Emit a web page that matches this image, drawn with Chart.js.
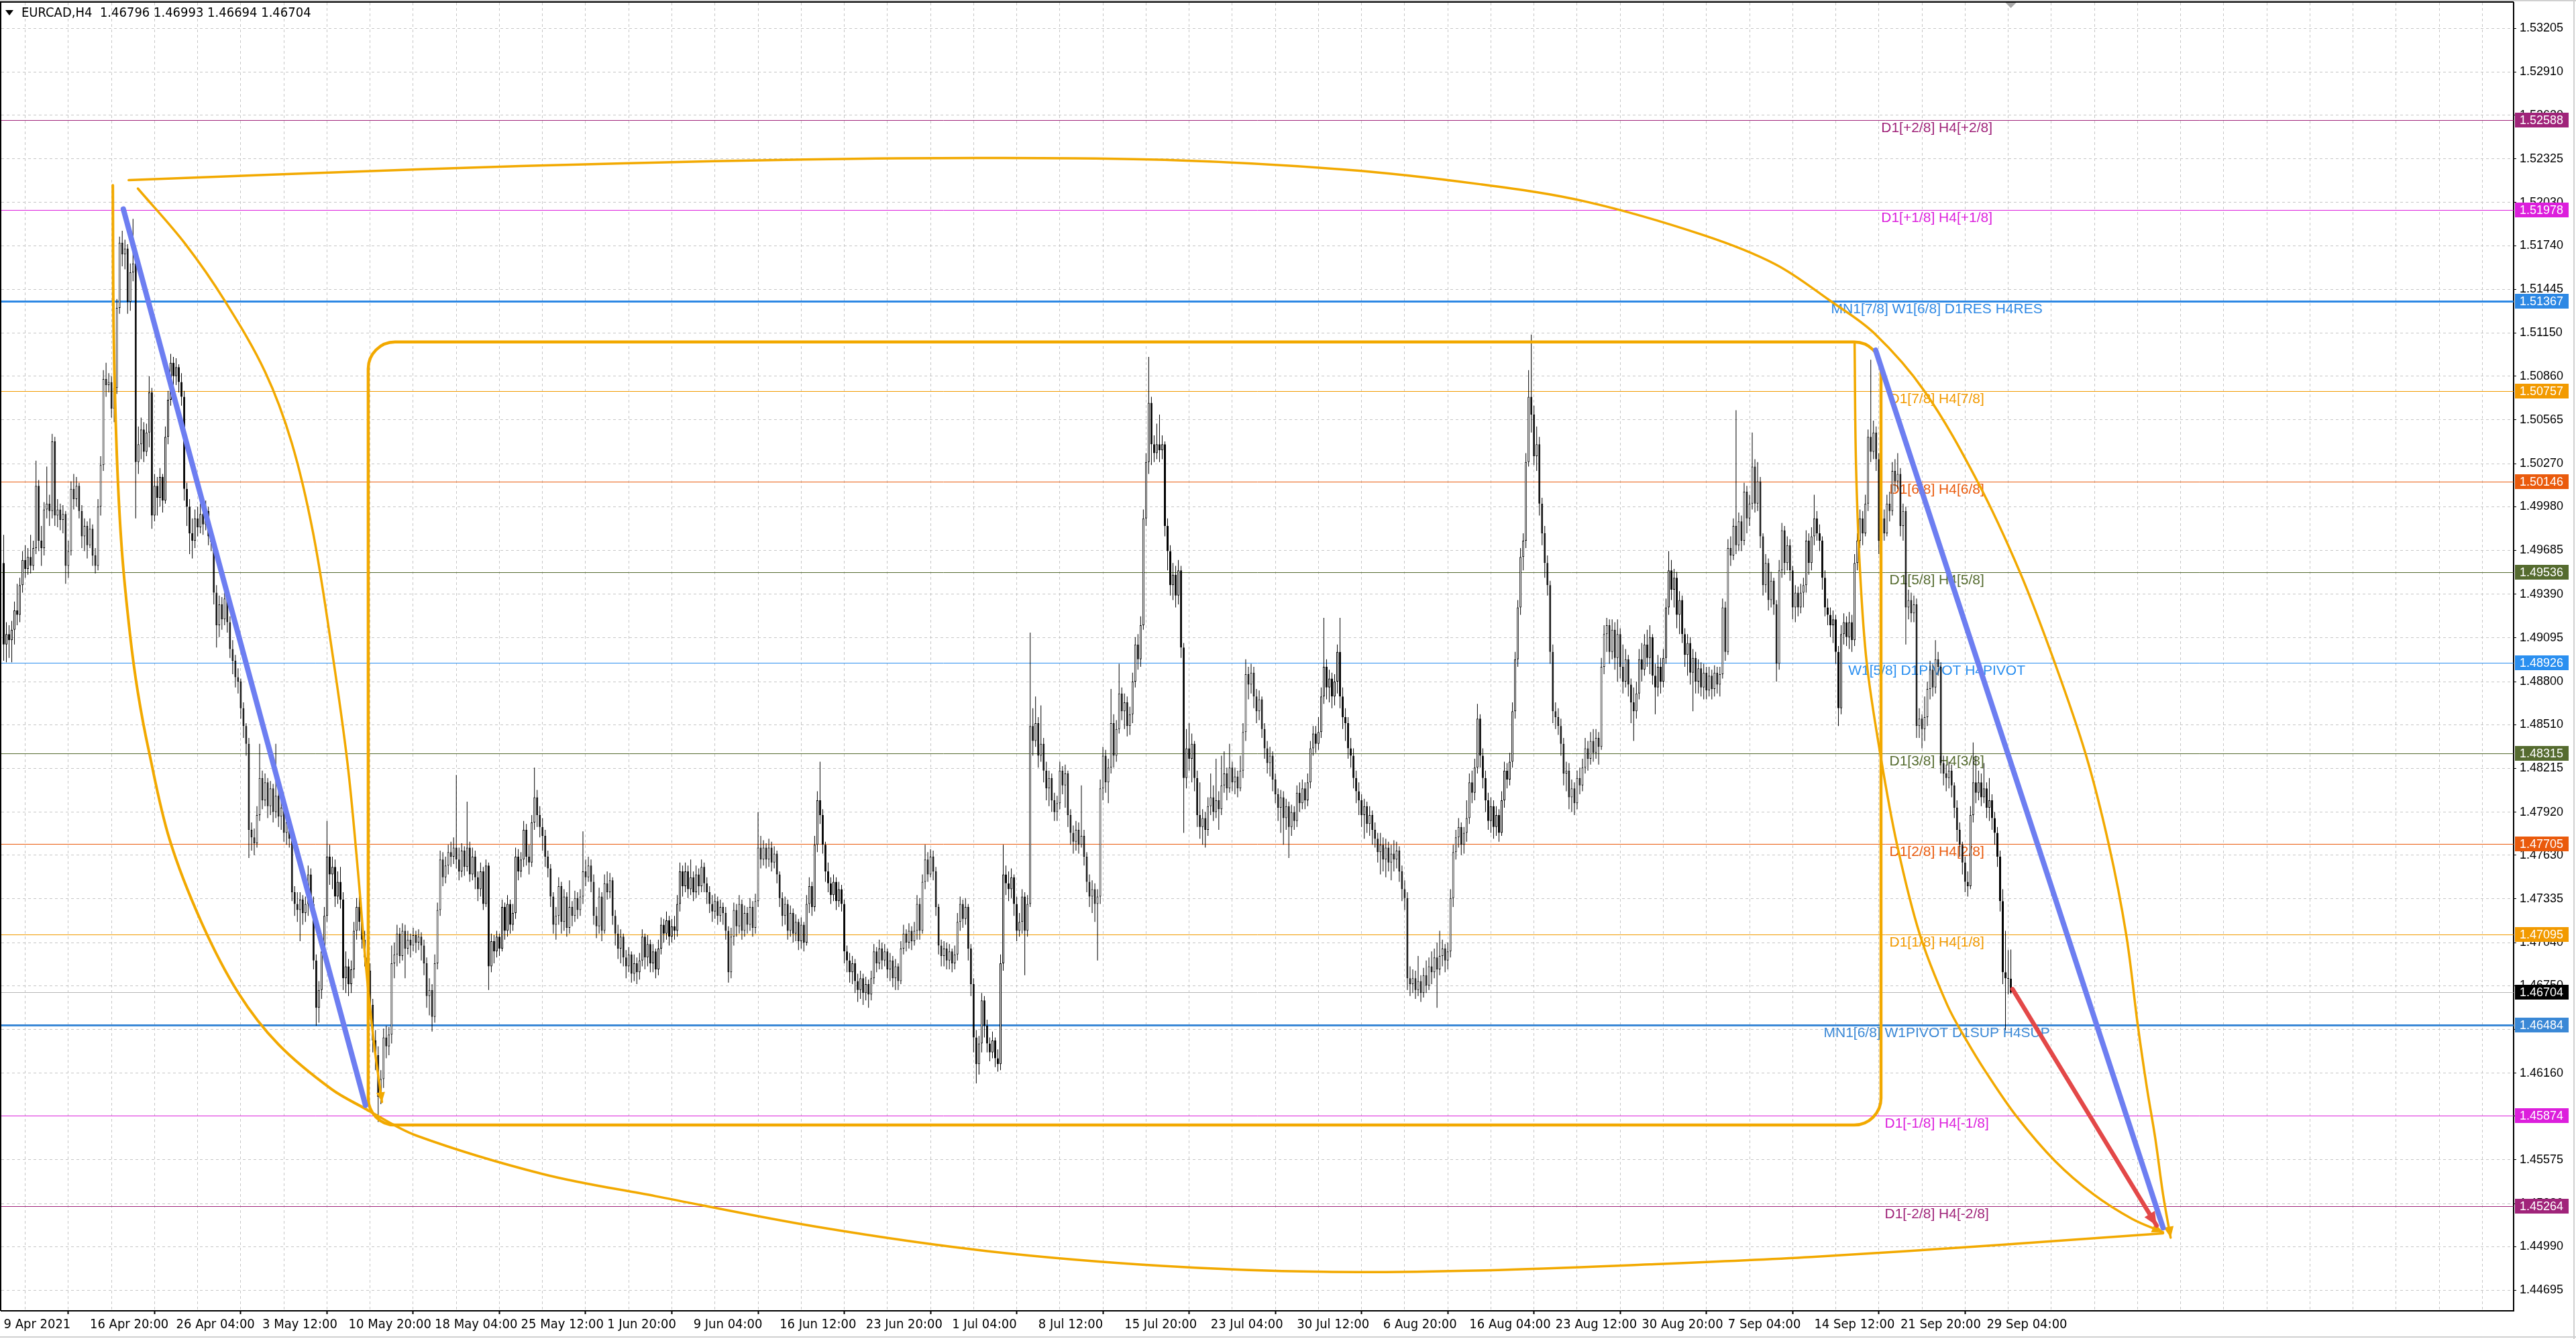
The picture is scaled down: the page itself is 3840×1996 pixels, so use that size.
<!DOCTYPE html>
<html>
<head>
<meta charset="utf-8">
<title>EURCAD,H4</title>
<script src="https://cdn.jsdelivr.net/npm/chart.js@4.4.1/dist/chart.umd.min.js"></script>
<style>
  html, body { margin: 0; padding: 0; background: #fff; overflow: hidden; }
  #wrap { width: 3840px; height: 1996px; position: relative; }
</style>
</head>
<body>
<div id="wrap"><canvas id="chart"></canvas></div>
<script>
// EURCAD H4, one value per candle (bar 0 = 9 Apr 16:00)
const symbol = 'EURCAD,H4';
const firstOpen = 1.4960;
const closes = [
  1.4905,1.4912,1.4908,1.4915,1.4928,1.4925,1.4945,1.4962,1.4956,1.4964,
  1.4958,1.4970,1.5012,1.4975,1.4970,1.4996,1.5000,1.4995,1.5042,1.4992,
  1.4996,1.4989,1.4993,1.4958,1.4968,1.5010,1.5003,1.5012,1.4995,1.4978,
  1.4985,1.4972,1.4983,1.4965,1.4958,1.4998,1.5026,1.5084,1.5080,1.5082,
  1.5064,1.5078,1.5132,1.5176,1.5168,1.5172,1.5136,1.5156,1.5162,1.5028,
  1.5040,1.5050,1.5035,1.5048,1.5075,1.4992,1.5012,1.5004,1.5018,1.5002,
  1.5045,1.5070,1.5095,1.5086,1.5092,1.5082,1.5072,1.5010,1.4998,1.4980,
  1.4975,1.4990,1.4984,1.4993,1.4986,1.4995,1.4978,1.4974,1.4940,1.4918,
  1.4932,1.4922,1.4936,1.4920,1.4902,1.4894,1.4883,1.4880,1.4862,1.4850,
  1.4838,1.4780,1.4775,1.4771,1.4790,1.4815,1.4800,1.4812,1.4796,1.4808,
  1.4792,1.4803,1.4789,1.4795,1.4778,1.4785,1.4774,1.4738,1.4730,1.4726,
  1.4733,1.4724,1.4730,1.4750,1.4730,1.4692,1.4660,1.4672,1.4698,1.4722,
  1.4762,1.4750,1.4755,1.4735,1.4745,1.4733,1.4680,1.4688,1.4676,1.4686,
  1.4712,1.4728,1.4718,1.4706,1.4694,1.4685,1.4662,1.4638,1.4628,1.4600,
  1.4612,1.4640,1.4634,1.4642,1.4690,1.4696,1.4710,1.4695,1.4712,1.4700,
  1.4706,1.4702,1.4709,1.4704,1.4708,1.4702,1.4690,1.4668,1.4672,1.4654,
  1.4690,1.4726,1.4760,1.4748,1.4756,1.4765,1.4762,1.4768,1.4760,1.4752,
  1.4766,1.4755,1.4768,1.4750,1.4762,1.4748,1.4740,1.4752,1.4730,1.4756,
  1.4688,1.4705,1.4698,1.4708,1.4700,1.4728,1.4712,1.4730,1.4716,1.4724,
  1.4762,1.4752,1.4760,1.4780,1.4762,1.4758,1.4785,1.4802,1.4790,1.4782,
  1.4776,1.4762,1.4754,1.4735,1.4716,1.4722,1.4742,1.4718,1.4735,1.4714,
  1.4728,1.4722,1.4734,1.4726,1.4735,1.4752,1.4748,1.4756,1.4745,1.4722,
  1.4715,1.4735,1.4712,1.4744,1.4738,1.4746,1.4722,1.4710,1.4700,1.4708,
  1.4694,1.4688,1.4696,1.4683,1.4690,1.4684,1.4692,1.4708,1.4694,1.4703,
  1.4690,1.4698,1.4686,1.4700,1.4716,1.4710,1.4719,1.4708,1.4715,1.4712,
  1.4730,1.4752,1.4742,1.4752,1.4740,1.4748,1.4738,1.4750,1.4742,1.4755,
  1.4744,1.4738,1.4730,1.4725,1.4732,1.4722,1.4728,1.4724,1.4712,1.4684,
  1.4708,1.4726,1.4715,1.4730,1.4712,1.4724,1.4716,1.4728,1.4714,1.4732,
  1.4768,1.4760,1.4768,1.4760,1.4768,1.4758,1.4764,1.4750,1.4734,1.4722,
  1.4730,1.4712,1.4724,1.4710,1.4718,1.4705,1.4716,1.4704,1.4730,1.4742,
  1.4728,1.4770,1.4800,1.4790,1.4770,1.4752,1.4744,1.4736,1.4745,1.4732,
  1.4740,1.4730,1.4698,1.4692,1.4684,1.4690,1.4678,1.4672,1.4680,1.4670,
  1.4676,1.4669,1.4680,1.4698,1.4690,1.4700,1.4692,1.4698,1.4686,1.4692,
  1.4680,1.4688,1.4678,1.4700,1.4710,1.4704,1.4712,1.4705,1.4712,1.4730,
  1.4712,1.4745,1.4760,1.4750,1.4762,1.4752,1.4728,1.4702,1.4695,1.4700,
  1.4692,1.4698,1.4690,1.4696,1.4718,1.4730,1.4720,1.4728,1.4700,1.4676,
  1.4640,1.4622,1.4636,1.4665,1.4648,1.4636,1.4630,1.4638,1.4626,1.4622,
  1.4690,1.4750,1.4744,1.4740,1.4748,1.4730,1.4712,1.4718,1.4735,1.4712,
  1.4730,1.4850,1.4840,1.4852,1.4830,1.4838,1.4820,1.4808,1.4815,1.4800,
  1.4792,1.4798,1.4820,1.4810,1.4818,1.4790,1.4778,1.4772,1.4780,1.4770,
  1.4776,1.4762,1.4745,1.4735,1.4740,1.4730,1.4735,1.4808,1.4830,1.4812,
  1.4822,1.4852,1.4830,1.4848,1.4872,1.4860,1.4866,1.4850,1.4858,1.4880,
  1.4905,1.4895,1.4918,1.4990,1.5028,1.5068,1.5040,1.5034,1.5040,1.5036,
  1.5040,1.4985,1.4968,1.4945,1.4952,1.4938,1.4955,1.4903,1.4815,1.4835,
  1.4828,1.4838,1.4815,1.4790,1.4782,1.4788,1.4780,1.4796,1.4802,1.4792,
  1.4800,1.4794,1.4810,1.4818,1.4808,1.4822,1.4812,1.4816,1.4808,1.4820,
  1.4846,1.4885,1.4878,1.4886,1.4870,1.4860,1.4868,1.4848,1.4835,1.4825,
  1.4830,1.4814,1.4804,1.4795,1.4802,1.4788,1.4796,1.4782,1.4792,1.4786,
  1.4805,1.4798,1.4808,1.4800,1.4812,1.4835,1.4845,1.4838,1.4846,1.4870,
  1.4890,1.4876,1.4882,1.4870,1.4880,1.4900,1.4870,1.4856,1.4852,1.4835,
  1.4830,1.4815,1.4806,1.4800,1.4790,1.4796,1.4784,1.4790,1.4780,1.4774,
  1.4765,1.4770,1.4760,1.4768,1.4758,1.4764,1.4760,1.4766,1.4752,1.4740,
  1.4734,1.4680,1.4676,1.4680,1.4672,1.4678,1.4670,1.4682,1.4675,1.4688,
  1.4684,1.4694,1.4686,1.4695,1.4700,1.4692,1.4698,1.4734,1.4765,1.4775,
  1.4782,1.4770,1.4778,1.4788,1.4812,1.4805,1.4822,1.4855,1.4830,1.4815,
  1.4800,1.4786,1.4796,1.4782,1.4790,1.4778,1.4800,1.4820,1.4814,1.4826,
  1.4860,1.4895,1.4930,1.4964,1.4975,1.5028,1.5072,1.5060,1.5032,1.5040,
  1.5000,1.4980,1.4960,1.4945,1.4900,1.4860,1.4856,1.4850,1.4838,1.4818,
  1.4820,1.4802,1.4808,1.4798,1.4815,1.4810,1.4822,1.4835,1.4828,1.4840,
  1.4832,1.4842,1.4836,1.4890,1.4912,1.4918,1.4900,1.4915,1.4896,1.4912,
  1.4890,1.4880,1.4895,1.4878,1.4866,1.4860,1.4872,1.4895,1.4888,1.4905,
  1.4896,1.4910,1.4884,1.4876,1.4890,1.4880,1.4896,1.4930,1.4955,1.4942,
  1.4950,1.4925,1.4935,1.4912,1.4898,1.4906,1.4886,1.4896,1.4880,1.4889,
  1.4876,1.4886,1.4874,1.4884,1.4875,1.4886,1.4878,1.4885,1.4930,1.4900,
  1.4970,1.4965,1.4985,1.4972,1.4988,1.4975,1.5008,1.4990,1.5000,1.5025,
  1.5000,1.5015,1.4978,1.4945,1.4960,1.4935,1.4948,1.4932,1.4892,1.4955,
  1.4982,1.4960,1.4972,1.4955,1.4930,1.4940,1.4930,1.4940,1.4945,1.4975,
  1.4960,1.4978,1.4990,1.4980,1.4975,1.4950,1.4930,1.4925,1.4918,1.4922,
  1.4900,1.4862,1.4912,1.4920,1.4910,1.4920,1.4908,1.4960,1.4975,1.4990,
  1.4980,1.5000,1.5045,1.5035,1.5048,1.5030,1.4975,1.4990,1.4980,1.5000,
  1.4995,1.5022,1.5015,1.5020,1.4985,1.4995,1.4930,1.4935,1.4926,1.4932,
  1.4850,1.4855,1.4848,1.4856,1.4875,1.4888,1.4876,1.4895,1.4890,1.4825,
  1.4818,1.4815,1.4820,1.4810,1.4795,1.4780,1.4770,1.4758,1.4745,1.4742,
  1.4790,1.4812,1.4805,1.4812,1.4802,1.4808,1.4795,1.4800,1.4788,1.4778,
  1.4762,1.4732,1.4684,1.4680,1.46796,1.46704
];
const highs = [
  1.4979,1.4920,1.4918,1.4921,1.4934,1.4946,1.4950,1.4968,1.4972,1.4970,
  1.4979,1.4975,1.5029,1.5016,1.4985,1.5001,1.5025,1.5006,1.5047,1.5045,
  1.5003,1.5000,1.4999,1.4995,1.4975,1.5015,1.5020,1.5018,1.5014,1.4999,
  1.4990,1.4988,1.4990,1.4986,1.4970,1.5003,1.5032,1.5090,1.5095,1.5088,
  1.5086,1.5083,1.5138,1.5180,1.5184,1.5178,1.5175,1.5162,1.5192,1.5168,
  1.5052,1.5058,1.5055,1.5054,1.5086,1.5078,1.5020,1.5018,1.5024,1.5020,
  1.5052,1.5076,1.5101,1.5099,1.5098,1.5094,1.5088,1.5076,1.5014,1.5003,
  1.4990,1.4996,1.4998,1.5000,1.4997,1.5002,1.4998,1.4984,1.4978,1.4945,
  1.4938,1.4937,1.4940,1.4938,1.4924,1.4908,1.4898,1.4889,1.4882,1.4866,
  1.4852,1.4842,1.4785,1.4781,1.4796,1.4838,1.4820,1.4818,1.4815,1.4813,
  1.4811,1.4838,1.4808,1.4800,1.4798,1.4790,1.4788,1.4778,1.4742,1.4738,
  1.4738,1.4736,1.4735,1.4756,1.4754,1.4735,1.4696,1.4678,1.4704,1.4728,
  1.4786,1.4770,1.4762,1.4760,1.4752,1.4755,1.4738,1.4698,1.4693,1.4692,
  1.4718,1.4734,1.4736,1.4722,1.4712,1.4699,1.4690,1.4666,1.4645,1.4634,
  1.4618,1.4646,1.4648,1.4647,1.4702,1.4704,1.4716,1.4714,1.4717,1.4716,
  1.4712,1.4710,1.4714,1.4712,1.4713,1.4711,1.4706,1.4694,1.4680,1.4676,
  1.4696,1.4731,1.4766,1.4765,1.4762,1.4770,1.4772,1.4775,1.4817,1.4768,
  1.4771,1.4769,1.4799,1.4772,1.4768,1.4766,1.4752,1.4758,1.4755,1.4760,
  1.4758,1.4710,1.4709,1.4712,1.4710,1.4733,1.4731,1.4736,1.4733,1.4730,
  1.4768,1.4767,1.4765,1.4786,1.4784,1.4770,1.4790,1.4822,1.4807,1.4796,
  1.4788,1.4780,1.4766,1.4757,1.4738,1.4728,1.4748,1.4745,1.4740,1.4738,
  1.4746,1.4732,1.4739,1.4738,1.4740,1.4779,1.4760,1.4762,1.4760,1.4750,
  1.4728,1.4741,1.4738,1.4750,1.4752,1.4751,1.4748,1.4726,1.4716,1.4713,
  1.4710,1.4699,1.4701,1.4698,1.4696,1.4694,1.4697,1.4713,1.4710,1.4709,
  1.4706,1.4703,1.4700,1.4706,1.4721,1.4720,1.4725,1.4722,1.4720,1.4722,
  1.4736,1.4758,1.4756,1.4758,1.4756,1.4760,1.4752,1.4756,1.4754,1.4760,
  1.4758,1.4748,1.4742,1.4736,1.4737,1.4735,1.4733,1.4731,1.4728,1.4715,
  1.4714,1.4731,1.4730,1.4736,1.4733,1.4729,1.4728,1.4734,1.4732,1.4737,
  1.4792,1.4776,1.4773,1.4771,1.4774,1.4772,1.4769,1.4766,1.4752,1.4738,
  1.4735,1.4733,1.4729,1.4727,1.4723,1.4720,1.4721,1.4718,1.4736,1.4748,
  1.4745,1.4776,1.4806,1.4826,1.4794,1.4772,1.4758,1.4748,1.4750,1.4748,
  1.4745,1.4743,1.4733,1.4702,1.4697,1.4695,1.4693,1.4683,1.4685,1.4683,
  1.4681,1.4679,1.4685,1.4703,1.4701,1.4706,1.4704,1.4703,1.4700,1.4697,
  1.4695,1.4693,1.4690,1.4705,1.4716,1.4713,1.4717,1.4715,1.4718,1.4736,
  1.4734,1.4750,1.4770,1.4765,1.4767,1.4766,1.4755,1.4730,1.4706,1.4705,
  1.4704,1.4703,1.4700,1.4702,1.4724,1.4735,1.4733,1.4734,1.4730,1.4703,
  1.4680,1.4645,1.4641,1.4670,1.4668,1.4652,1.4640,1.4644,1.4640,1.4632,
  1.4696,1.4770,1.4756,1.4752,1.4754,1.4750,1.4735,1.4724,1.4740,1.4738,
  1.4736,1.4913,1.4862,1.4870,1.4856,1.4864,1.4842,1.4826,1.4820,1.4818,
  1.4805,1.4803,1.4826,1.4823,1.4824,1.4820,1.4794,1.4783,1.4786,1.4785,
  1.4810,1.4780,1.4765,1.4750,1.4746,1.4744,1.4740,1.4814,1.4836,1.4834,
  1.4828,1.4875,1.4858,1.4854,1.4892,1.4876,1.4872,1.4870,1.4863,1.4886,
  1.4910,1.4912,1.4924,1.4996,1.5034,1.5099,1.5072,1.5046,1.5054,1.5060,
  1.5046,1.5042,1.4990,1.4972,1.4960,1.4958,1.4962,1.4958,1.4906,1.4848,
  1.4852,1.4845,1.4840,1.4820,1.4812,1.4794,1.4792,1.4802,1.4818,1.4810,
  1.4828,1.4806,1.4830,1.4833,1.4822,1.4838,1.4826,1.4822,1.4820,1.4830,
  1.4852,1.4895,1.4890,1.4892,1.4890,1.4875,1.4874,1.4870,1.4852,1.4840,
  1.4836,1.4833,1.4818,1.4808,1.4807,1.4806,1.4801,1.4799,1.4797,1.4796,
  1.4810,1.4812,1.4814,1.4812,1.4818,1.4840,1.4850,1.4850,1.4856,1.4876,
  1.4923,1.4895,1.4888,1.4886,1.4885,1.4905,1.4923,1.4876,1.4862,1.4856,
  1.4842,1.4835,1.4820,1.4812,1.4804,1.4801,1.4799,1.4796,1.4793,1.4785,
  1.4778,1.4778,1.4775,1.4774,1.4772,1.4770,1.4773,1.4772,1.4769,1.4756,
  1.4746,1.4738,1.4688,1.4686,1.4685,1.4695,1.4682,1.4687,1.4692,1.4694,
  1.4698,1.4700,1.4704,1.4712,1.4706,1.4703,1.4704,1.4740,1.4770,1.4780,
  1.4788,1.4785,1.4782,1.4800,1.4818,1.4820,1.4828,1.4865,1.4858,1.4835,
  1.4820,1.4805,1.4802,1.4800,1.4796,1.4794,1.4806,1.4826,1.4825,1.4832,
  1.4866,1.4900,1.4935,1.4970,1.4980,1.5034,1.5090,1.5114,1.5066,1.5052,
  1.5045,1.5004,1.4985,1.4965,1.4948,1.4905,1.4866,1.4862,1.4855,1.4842,
  1.4826,1.4825,1.4814,1.4812,1.4820,1.4822,1.4828,1.4842,1.4840,1.4846,
  1.4848,1.4848,1.4846,1.4896,1.4918,1.4923,1.4922,1.4922,1.4920,1.4922,
  1.4916,1.4905,1.4902,1.4898,1.4882,1.4876,1.4880,1.4902,1.4906,1.4912,
  1.4915,1.4918,1.4912,1.4892,1.4898,1.4896,1.4902,1.4936,1.4968,1.4962,
  1.4956,1.4954,1.4941,1.4938,1.4916,1.4912,1.4910,1.4902,1.4900,1.4895,
  1.4893,1.4892,1.4890,1.4890,1.4888,1.4891,1.4890,1.4890,1.4936,1.4934,
  1.4976,1.4978,1.4990,1.5063,1.4994,1.4992,1.5014,1.5012,1.5006,1.5048,
  1.5030,1.5028,1.5018,1.4980,1.4966,1.4963,1.4954,1.4950,1.4935,1.4962,
  1.4987,1.4985,1.4978,1.4976,1.4958,1.4945,1.4944,1.4946,1.4950,1.4982,
  1.4980,1.4984,1.5006,1.4995,1.4986,1.4978,1.4955,1.4936,1.4930,1.4928,
  1.4925,1.4904,1.4918,1.4926,1.4924,1.4927,1.4925,1.4966,1.4980,1.4996,
  1.4995,1.5006,1.5050,1.5097,1.5056,1.5052,1.5034,1.4998,1.4996,1.5006,
  1.5008,1.5028,1.5030,1.5034,1.5024,1.5000,1.4998,1.4942,1.4940,1.4938,
  1.4936,1.4862,1.4858,1.4870,1.4880,1.4894,1.4892,1.4908,1.4900,1.4893,
  1.4830,1.4824,1.4826,1.4824,1.4812,1.4800,1.4785,1.4772,1.4762,1.4752,
  1.4796,1.4839,1.4830,1.4820,1.4818,1.4825,1.4812,1.4815,1.4804,1.4792,
  1.4782,1.4766,1.4740,1.4712,1.4699,1.46993
];
const lows = [
  1.4894,1.4893,1.4896,1.4893,1.4905,1.4918,1.4920,1.4940,1.4950,1.4952,
  1.4953,1.4955,1.4966,1.4968,1.4958,1.4965,1.4990,1.4985,1.4990,1.4985,
  1.4984,1.4982,1.4980,1.4946,1.4950,1.4965,1.4996,1.4998,1.4990,1.4970,
  1.4968,1.4963,1.4970,1.4958,1.4953,1.4955,1.4992,1.5022,1.5072,1.5075,
  1.5058,1.5055,1.5074,1.5128,1.5160,1.5158,1.5128,1.5130,1.5150,1.4990,
  1.5020,1.5030,1.5028,1.5032,1.5038,1.4983,1.4988,1.4992,1.4998,1.4994,
  1.5000,1.5040,1.5066,1.5078,1.5080,1.5075,1.5066,1.5002,1.4985,1.4966,
  1.4963,1.4970,1.4978,1.4980,1.4979,1.4982,1.4972,1.4968,1.4932,1.4903,
  1.4910,1.4915,1.4918,1.4913,1.4896,1.4885,1.4876,1.4872,1.4855,1.4842,
  1.4830,1.4761,1.4766,1.4763,1.4768,1.4786,1.4794,1.4796,1.4788,1.4790,
  1.4785,1.4788,1.4782,1.4780,1.4772,1.4770,1.4768,1.4732,1.4722,1.4718,
  1.4705,1.4716,1.4718,1.4722,1.4725,1.4686,1.4648,1.4650,1.4666,1.4692,
  1.4718,1.4743,1.4740,1.4728,1.4730,1.4727,1.4672,1.4670,1.4668,1.4670,
  1.4680,1.4706,1.4712,1.4700,1.4688,1.4676,1.4655,1.4630,1.4618,1.4583,
  1.4595,1.4606,1.4626,1.4628,1.4636,1.4680,1.4688,1.4690,1.4692,1.4680,
  1.4696,1.4694,1.4698,1.4697,1.4699,1.4692,1.4682,1.4660,1.4655,1.4644,
  1.4650,1.4686,1.4722,1.4742,1.4744,1.4750,1.4755,1.4757,1.4754,1.4746,
  1.4748,1.4749,1.4752,1.4745,1.4746,1.4740,1.4732,1.4735,1.4726,1.4728,
  1.4672,1.4684,1.4690,1.4694,1.4695,1.4698,1.4706,1.4708,1.4710,1.4712,
  1.4720,1.4746,1.4748,1.4755,1.4756,1.4750,1.4755,1.4780,1.4782,1.4775,
  1.4766,1.4755,1.4748,1.4728,1.4710,1.4706,1.4716,1.4710,1.4712,1.4708,
  1.4710,1.4715,1.4718,1.4720,1.4722,1.4730,1.4742,1.4745,1.4738,1.4716,
  1.4707,1.4710,1.4705,1.4710,1.4733,1.4734,1.4716,1.4702,1.4693,1.4690,
  1.4688,1.4680,1.4684,1.4677,1.4678,1.4676,1.4679,1.4688,1.4686,1.4688,
  1.4684,1.4684,1.4680,1.4682,1.4696,1.4704,1.4706,1.4702,1.4704,1.4706,
  1.4708,1.4725,1.4735,1.4738,1.4734,1.4736,1.4732,1.4734,1.4736,1.4738,
  1.4738,1.4730,1.4724,1.4718,1.4720,1.4716,1.4718,1.4716,1.4706,1.4677,
  1.4680,1.4702,1.4708,1.4710,1.4706,1.4708,1.4710,1.4712,1.4708,1.4710,
  1.4728,1.4754,1.4756,1.4754,1.4755,1.4752,1.4754,1.4744,1.4728,1.4715,
  1.4716,1.4706,1.4708,1.4704,1.4705,1.4699,1.4700,1.4698,1.4702,1.4724,
  1.4722,1.4725,1.4765,1.4784,1.4764,1.4745,1.4738,1.4730,1.4732,1.4726,
  1.4728,1.4725,1.4690,1.4684,1.4677,1.4676,1.4670,1.4664,1.4666,1.4662,
  1.4665,1.4660,1.4665,1.4676,1.4684,1.4686,1.4686,1.4688,1.4680,1.4678,
  1.4674,1.4672,1.4672,1.4676,1.4696,1.4698,1.4700,1.4699,1.4702,1.4706,
  1.4706,1.4710,1.4740,1.4745,1.4748,1.4746,1.4722,1.4696,1.4688,1.4688,
  1.4686,1.4686,1.4684,1.4686,1.4692,1.4712,1.4714,1.4716,1.4692,1.4668,
  1.4630,1.4609,1.4615,1.4630,1.4640,1.4630,1.4624,1.4626,1.4620,1.4617,
  1.4618,1.4685,1.4736,1.4732,1.4734,1.4722,1.4705,1.4708,1.4710,1.4682,
  1.4708,1.4728,1.4830,1.4836,1.4822,1.4826,1.4812,1.4800,1.4796,1.4792,
  1.4786,1.4786,1.4794,1.4804,1.4795,1.4782,1.4770,1.4764,1.4766,1.4764,
  1.4768,1.4756,1.4738,1.4728,1.4724,1.4718,1.4692,1.4730,1.4800,1.4805,
  1.4798,1.4818,1.4822,1.4826,1.4845,1.4854,1.4848,1.4843,1.4844,1.4852,
  1.4876,1.4888,1.4890,1.4915,1.4985,1.5020,1.5026,1.5028,1.5030,1.5028,
  1.5030,1.4978,1.4955,1.4938,1.4935,1.4930,1.4932,1.4896,1.4778,1.4808,
  1.4820,1.4812,1.4806,1.4782,1.4774,1.4770,1.4768,1.4776,1.4790,1.4786,
  1.4788,1.4780,1.4790,1.4805,1.4800,1.4805,1.4806,1.4804,1.4802,1.4806,
  1.4815,1.4840,1.4868,1.4872,1.4862,1.4852,1.4854,1.4842,1.4828,1.4818,
  1.4816,1.4806,1.4798,1.4786,1.4778,1.4770,1.4780,1.4761,1.4776,1.4780,
  1.4782,1.4792,1.4794,1.4794,1.4796,1.4808,1.4830,1.4832,1.4834,1.4842,
  1.4865,1.4868,1.4866,1.4862,1.4864,1.4872,1.4862,1.4848,1.4840,1.4828,
  1.4822,1.4808,1.4798,1.4790,1.4782,1.4774,1.4778,1.4776,1.4770,1.4768,
  1.4758,1.4750,1.4752,1.4748,1.4752,1.4746,1.4752,1.4754,1.4745,1.4732,
  1.4726,1.4672,1.4668,1.4670,1.4666,1.4668,1.4664,1.4667,1.4670,1.4672,
  1.4676,1.4680,1.4660,1.4682,1.4688,1.4684,1.4686,1.4694,1.4728,1.4760,
  1.4768,1.4763,1.4764,1.4772,1.4784,1.4798,1.4800,1.4818,1.4822,1.4808,
  1.4792,1.4780,1.4778,1.4774,1.4776,1.4772,1.4776,1.4795,1.4808,1.4810,
  1.4822,1.4855,1.4890,1.4925,1.4955,1.4970,1.5025,1.5048,1.5026,1.5022,
  1.4992,1.4972,1.4950,1.4938,1.4892,1.4852,1.4848,1.4844,1.4830,1.4810,
  1.4806,1.4794,1.4792,1.4790,1.4794,1.4804,1.4806,1.4818,1.4820,1.4824,
  1.4826,1.4828,1.4824,1.4834,1.4885,1.4900,1.4892,1.4895,1.4888,1.4880,
  1.4882,1.4872,1.4876,1.4870,1.4852,1.4840,1.4855,1.4868,1.4880,1.4884,
  1.4890,1.4885,1.4878,1.4858,1.4870,1.4872,1.4876,1.4892,1.4925,1.4935,
  1.4930,1.4916,1.4912,1.4906,1.4890,1.4884,1.4878,1.4860,1.4872,1.4872,
  1.4870,1.4868,1.4868,1.4870,1.4868,1.4870,1.4872,1.4870,1.4882,1.4894,
  1.4898,1.4958,1.4962,1.4966,1.4968,1.4968,1.4972,1.4980,1.4985,1.4996,
  1.4994,1.4995,1.4970,1.4938,1.4940,1.4928,1.4930,1.4925,1.4880,1.4888,
  1.4950,1.4952,1.4955,1.4948,1.4922,1.4920,1.4924,1.4926,1.4930,1.4940,
  1.4952,1.4955,1.4972,1.4975,1.4968,1.4942,1.4924,1.4918,1.4910,1.4906,
  1.4892,1.4850,1.4858,1.4905,1.4904,1.4902,1.4900,1.4904,1.4955,1.4970,
  1.4972,1.4978,1.4995,1.5028,1.5030,1.5022,1.4966,1.4970,1.4975,1.4978,
  1.4988,1.4992,1.5008,1.5010,1.4978,1.4975,1.4905,1.4922,1.4920,1.4920,
  1.4842,1.4842,1.4835,1.4840,1.4850,1.4868,1.4870,1.4872,1.4884,1.4818,
  1.4810,1.4806,1.4808,1.4802,1.4788,1.4772,1.4762,1.4750,1.4738,1.4735,
  1.4740,1.4785,1.4798,1.4800,1.4796,1.4798,1.4788,1.4786,1.4780,1.4770,
  1.4755,1.4725,1.4676,1.4645,1.4669,1.46694
];

// time axis: a label every 32 bars
const xLabels = ['9 Apr 2021','16 Apr 20:00','26 Apr 04:00','3 May 12:00','10 May 20:00','18 May 04:00',
  '25 May 12:00','1 Jun 20:00','9 Jun 04:00','16 Jun 12:00','23 Jun 20:00','1 Jul 04:00','8 Jul 12:00',
  '15 Jul 20:00','23 Jul 04:00','30 Jul 12:00','6 Aug 20:00','16 Aug 04:00','23 Aug 12:00','30 Aug 20:00',
  '7 Sep 04:00','14 Sep 12:00','21 Sep 20:00','29 Sep 04:00'];
const yTicks = [1.53205,1.52910,1.52620,1.52325,1.52030,1.51740,1.51445,1.51150,1.50860,1.50565,
  1.50270,1.49980,1.49685,1.49390,1.49095,1.48800,1.48510,1.48215,1.47920,1.47630,1.47335,1.47040,
  1.46750,1.46455,1.46160,1.45870,1.45575,1.45280,1.44990,1.44695];

// Murrey levels
const levels = [1.52588,1.51978,1.51367,1.50757,1.50146,1.49536,1.48926,1.48315,1.47705,1.47095,1.46484,1.45874,1.45264];
const levelNames = ['D1[+2/8] H4[+2/8]','D1[+1/8] H4[+1/8]','MN1[7/8] W1[6/8] D1RES H4RES','D1[7/8] H4[7/8]',
  'D1[6/8] H4[6/8]','D1[5/8] H4[5/8]','W1[5/8] D1PIVOT H4PIVOT','D1[3/8] H4[3/8]','D1[2/8] H4[2/8]',
  'D1[1/8] H4[1/8]','MN1[6/8] W1PIVOT D1SUP H4SUP','D1[-1/8] H4[-1/8]','D1[-2/8] H4[-2/8]'];
const levelColors = ['#a0247a','#dc1edc','#2d88e4','#f29a00','#ea5a0c','#556b2f','#2a8ff0','#556b2f',
  '#ea5a0c','#f29a00','#3a88d6','#dc1edc','#a0247a'];
const levelWidths = [1,1,3,1,1,1,1,1,1,1,3,1,1];
const levelLabelBar = 717.5;

// hand drawn objects (bar index, price)
const leftOuterBars = [40.5,40.8,42.0,43.9,46.9,49.8,53.8,61.6,73.5,87.2,102.0,121.7,135.0];
const leftOuterPrices = [1.52146,1.51188,1.50325,1.49677,1.49116,1.48727,1.48339,1.47734,1.47173,1.46698,1.46353,1.46051,1.45912];
const leftInnerBars = [49.8,67.5,82.3,97.1,106.9,114.8,121.7,127.6,131.5,134.5,137.5,140.4];
const leftInnerPrices = [1.52125,1.51749,1.51361,1.50886,1.50411,1.49807,1.49029,1.48252,1.47519,1.46871,1.46353,1.45965];
const outerArcBars = [46.4,153.6,230,297.4,364,430.8,497.5,547.5,587.6,631,657.6,678,694.3,713,732.7,748.4,761.3,772.7,781.3,787.8,792.1,795.5,798.6,801.5,804.3];
const outerArcPrices = [1.52181,1.52254,1.52295,1.52321,1.52331,1.52318,1.52253,1.52155,1.52035,1.51810,1.51614,1.51367,1.51149,1.50757,1.50146,1.49536,1.48926,1.48315,1.47705,1.47095,1.46484,1.46060,1.45720,1.45340,1.45050];
const rightInnerBars = [687.0,687.5,689.0,691.5,696.5,702.7,711.2,721.4,728.1,735.7,747.1,761.4,775.7,790.0,801.5];
const rightInnerPrices = [1.51078,1.50281,1.49549,1.48926,1.48315,1.47705,1.47095,1.46619,1.46394,1.46168,1.45868,1.45567,1.45342,1.45177,1.45087];
const bottomBars = [135.0,153,200,242,303,365,430,490,550,611,671,740,801.5];
const bottomPrices = [1.4591,1.4574,1.4548,1.4533,1.4512,1.4496,1.4486,1.4482,1.4483,1.4487,1.4492,1.4500,1.4508];
const boxBars = [135.3,696.8];
const boxPrices = [1.5109,1.4581];
const trend1Bars = [44.4,134.3], trend1Prices = [1.51987,1.45943];
const trend2Bars = [694.8,801.5], trend2Prices = [1.51035,1.45117];
const projBars = [745.6,799.1], projPrices = [1.46727,1.45132];

// H4 candles open where the previous one closed
const opens = closes.map((c, i) => i ? closes[i - 1] : firstOpen);
const last = closes.length - 1;

const ORANGE = '#f2a900';
const SANS = '"Liberation Sans", Arial, sans-serif';
const NARROW = '"Liberation Sans Narrow", "DejaVu Sans Condensed", "Liberation Sans", sans-serif';

function pts(xs, ys) { return xs.map((v, i) => ({x: v, y: ys[i]})); }
function curve(xs, ys, color, width, order, arrow) {
  return {type: 'line', data: pts(xs, ys), borderColor: color, backgroundColor: color, borderWidth: width,
    pointRadius: 0, tension: 0.35, fill: false, order: order, arrow: arrow || 0, borderCapStyle: 'round'};
}
// keep the plot edges where the terminal has them
function noPad(s) { s.paddingTop = 0; s.paddingBottom = 0; s.paddingLeft = 0; s.paddingRight = 0; }

const drawings = {
  id: 'drawings',
  beforeDatasetsDraw(chart) {
    const {ctx, chartArea: a, scales: {x, y}} = chart;
    ctx.save();
    ctx.beginPath(); ctx.rect(a.left, a.top, a.right - a.left, a.bottom - a.top); ctx.clip();
    // bid line
    let py = Math.round(y.getPixelForValue(closes[last])) + 0.5;
    ctx.strokeStyle = '#b8b8b8'; ctx.lineWidth = 1;
    ctx.beginPath(); ctx.moveTo(a.left, py); ctx.lineTo(a.right, py); ctx.stroke();
    ctx.font = '21px ' + SANS; ctx.textAlign = 'center'; ctx.textBaseline = 'middle';
    const lx = x.getPixelForValue(levelLabelBar);
    levels.forEach((p, i) => {
      const w = levelWidths[i];
      py = Math.round(y.getPixelForValue(p)) + (w % 2 ? 0.5 : 0);
      ctx.strokeStyle = levelColors[i]; ctx.lineWidth = w;
      ctx.beginPath(); ctx.moveTo(a.left, py); ctx.lineTo(a.right, py); ctx.stroke();
      ctx.fillStyle = levelColors[i];
      ctx.fillText(levelNames[i], lx, py + 12);
    });
    ctx.restore();
  },
  afterDatasetDraw(chart, args) {
    const ds = chart.data.datasets[args.index];
    const {ctx, chartArea: a, scales: {x, y}} = chart;
    ctx.save();
    ctx.beginPath(); ctx.rect(a.left, a.top, a.right - a.left, a.bottom - a.top); ctx.clip();
    if (ds.id === 'bodies') {
      const x0 = x.getPixelForValue(boxBars[0]), x1 = x.getPixelForValue(boxBars[1]);
      const y0 = y.getPixelForValue(boxPrices[0]), y1 = y.getPixelForValue(boxPrices[1]);
      const r = 40;
      ctx.strokeStyle = ORANGE; ctx.lineWidth = 4.5;
      ctx.beginPath();
      ctx.moveTo(x0 + r, y0);
      ctx.arcTo(x1, y0, x1, y1, r);
      ctx.arcTo(x1, y1, x0, y1, r);
      ctx.arcTo(x0, y1, x0, y0, r);
      ctx.arcTo(x0, y0, x1, y0, r);
      ctx.closePath(); ctx.stroke();
    }
    if (ds.arrow) {
      const el = args.meta.data;
      const p1 = el[el.length - 1], p0 = el[el.length - 2];
      const ang = Math.atan2(p1.y - p0.y, p1.x - p0.x), s = ds.arrow;
      ctx.fillStyle = ds.borderColor;
      ctx.beginPath(); ctx.moveTo(p1.x, p1.y);
      ctx.lineTo(p1.x - s * Math.cos(ang - 0.42), p1.y - s * Math.sin(ang - 0.42));
      ctx.lineTo(p1.x - s * Math.cos(ang + 0.42), p1.y - s * Math.sin(ang + 0.42));
      ctx.closePath(); ctx.fill();
    }
    ctx.restore();
  },
  afterDraw(chart) {
    const {ctx, chartArea: a, scales: {x, y}} = chart;
    ctx.save();
    // frame
    ctx.strokeStyle = '#000'; ctx.lineWidth = 2;
    ctx.beginPath(); ctx.moveTo(a.left - 1, a.bottom); ctx.lineTo(a.left - 1, a.top - 1); ctx.lineTo(a.right, a.top - 1); ctx.stroke();
    ctx.strokeStyle = '#d0d0d0'; ctx.lineWidth = 2;
    ctx.beginPath(); ctx.moveTo(0, 1); ctx.lineTo(3840, 1); ctx.moveTo(3837, 0); ctx.lineTo(3837, 1996);
    ctx.moveTo(0, 1993); ctx.lineTo(3840, 1993); ctx.stroke();
    // price tags on the axis
    ctx.font = '18px ' + SANS; ctx.textAlign = 'left'; ctx.textBaseline = 'middle';
    const tag = (p, bg) => {
      const py = Math.round(y.getPixelForValue(p));
      ctx.fillStyle = bg; ctx.fillRect(a.right + 2, py - 11, 80, 22);
      ctx.fillStyle = '#fff'; ctx.fillText(p.toFixed(5), a.right + 9, py + 1);
    };
    levels.forEach((p, i) => tag(p, levelColors[i]));
    tag(closes[last], '#000');
    // header
    ctx.fillStyle = '#000';
    ctx.beginPath(); ctx.moveTo(8, 15); ctx.lineTo(20, 15); ctx.lineTo(14, 23); ctx.closePath(); ctx.fill();
    ctx.font = '20px ' + NARROW; ctx.textBaseline = 'middle';
    const ohlc = [opens[last], highs[last], lows[last], closes[last]].map(v => v.toFixed(5)).join(' ');
    ctx.fillText(symbol + '  ' + ohlc, 32, 20);
    // chart shift marker
    const sx = x.getPixelForValue(last);
    ctx.fillStyle = '#a8a8a8';
    ctx.beginPath(); ctx.moveTo(sx - 8, a.top); ctx.lineTo(sx + 8, a.top); ctx.lineTo(sx, a.top + 8); ctx.closePath(); ctx.fill();
    ctx.restore();
  }
};

new Chart(document.getElementById('chart'), {
  type: 'bar',
  data: {
    datasets: [
      {id: 'wicks', type: 'bar', order: 11, grouped: false, barThickness: 1, inflateAmount: 0,
        backgroundColor: '#000', borderWidth: 0,
        data: closes.map((c, i) => ({x: i, y: [Math.min(lows[i], opens[i], c), Math.max(highs[i], opens[i], c)]}))},
      {id: 'bodies', type: 'bar', order: 10, grouped: false, barThickness: 3, minBarLength: 1, inflateAmount: 0,
        backgroundColor: ctx => closes[ctx.dataIndex] >= opens[ctx.dataIndex] ? '#fff' : '#000',
        borderColor: '#000', borderWidth: 1, borderSkipped: false,
        data: closes.map((c, i) => ({x: i, y: [opens[i], c]}))},
      curve(leftOuterBars, leftOuterPrices, ORANGE, 4, 5),
      curve(leftInnerBars, leftInnerPrices, ORANGE, 3.5, 5, 16),
      curve(outerArcBars, outerArcPrices, ORANGE, 3.5, 5, 18),
      curve(rightInnerBars, rightInnerPrices, ORANGE, 3.5, 5, 18),
      curve(bottomBars, bottomPrices, ORANGE, 3.5, 5),
      curve(trend1Bars, trend1Prices, '#6d7ef1', 8, 3),
      curve(trend2Bars, trend2Prices, '#6d7ef1', 8, 3),
      curve(projBars, projPrices, '#e34848', 6.5, 2, 22)
    ]
  },
  options: {
    responsive: true,
    maintainAspectRatio: false,
    devicePixelRatio: 1,
    animation: false,
    events: [],
    layout: {padding: {left: 2, top: 4, right: 0, bottom: 0}},
    plugins: {legend: {display: false}, tooltip: {enabled: false}},
    scales: {
      x: {
        type: 'linear', offset: false, min: -0.87, max: 931.6,
        afterBuildTicks: s => { s.ticks = []; for (let v = 0; v <= s.max; v += 16) s.ticks.push({value: v}); },
        afterFit: s => { s.height = 42; noPad(s); },
        grid: {color: '#c6c6c6', lineWidth: 1, tickLength: 5, tickWidth: 2,
          tickColor: c => (c.tick && c.tick.value % 32 === 0 && xLabels[c.tick.value / 32]) ? '#000' : 'rgba(0,0,0,0)'},
        border: {display: true, color: '#000', width: 2, dash: [4, 4]},
        ticks: {
          autoSkip: false, maxRotation: 0, minRotation: 0, align: 'start', padding: 4,
          color: '#000', font: {family: NARROW, size: 20},
          callback: v => (v % 32 === 0 && xLabels[v / 32]) ? xLabels[v / 32] : ''
        }
      },
      y: {
        position: 'right', min: 1.44557, max: 1.53378,
        afterBuildTicks: s => { s.ticks = yTicks.map(v => ({value: v})); },
        afterFit: s => { s.width = 93; noPad(s); },
        grid: {color: '#c6c6c6', lineWidth: 1, tickLength: 4, tickColor: '#000'},
        border: {display: true, color: '#000', width: 2, dash: [4, 4]},
        ticks: {autoSkip: false, padding: 5, color: '#000', font: {family: SANS, size: 18},
          callback: v => v.toFixed(5)}
      }
    }
  },
  plugins: [drawings]
});
</script>
</body>
</html>
